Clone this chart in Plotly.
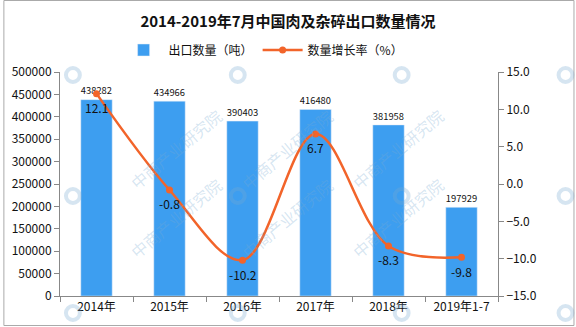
import plotly.graph_objects as go

categories = ["2014年", "2015年", "2016年", "2017年", "2018年", "2019年1-7"]
export_volume = [438282, 434966, 390403, 416480, 381958, 197929]
growth_rate = [12.1, -0.8, -10.2, 6.7, -8.3, -9.8]

FONT = "Noto Sans CJK SC"
BAR_COLOR = "#3d9ef0"
LINE_COLOR = "#f2642a"
AXIS_COLOR = "#888888"
WM_COLOR = "rgba(120,170,210,0.3)"

W, H = 576, 327
ML, MR, MT, MB = 57, 78, 72, 31
PW, PH = W - ML - MR, H - MT - MB

fig = go.Figure()

fig.add_trace(go.Bar(
    x=categories, y=export_volume, name="出口数量（吨）",
    marker_color=BAR_COLOR, width=0.43,
    text=[str(v) for v in export_volume], textposition="outside",
    textfont=dict(family=FONT, size=12, color="#111111"),
    cliponaxis=False,
))

fig.add_trace(go.Scatter(
    x=categories, y=growth_rate, name="数量增长率（%）", yaxis="y2",
    mode="lines+markers",
    line=dict(color=LINE_COLOR, width=2.5, shape="spline", smoothing=1.0),
    marker=dict(color=LINE_COLOR, size=7),
    cliponaxis=False,
))


def px_to_paper(px, py):
    return (px - ML) / PW, (H - MB - py) / PH


shapes = []
annotations = []

# growth-rate labels just below each point
for cat, val in zip(categories, growth_rate):
    annotations.append(dict(x=cat, y=val, xref="x", yref="y2", text=f"{val:.1f}",
                            showarrow=False, yshift=-14,
                            font=dict(family=FONT, size=12, color="#111111")))

# faint "中商产业研究院" watermark tiles
for gx in [70, 236, 401, 566]:
    for gy in [75, 196, 313]:
        cx, cy = px_to_paper(gx, gy)
        r, ry = 7 / PW, 7 / PH
        shapes.append(dict(type="circle", xref="paper", yref="paper",
                           x0=cx - r, x1=cx + r, y0=cy - ry, y1=cy + ry,
                           line=dict(color=WM_COLOR, width=4), layer="above"))
        if gy > 100 and gx < 500:
            tx, ty = px_to_paper(gx + 50, gy - 47)
            annotations.append(dict(text="中商产业研究院", xref="paper", yref="paper",
                                    x=tx, y=ty, showarrow=False, textangle=-40,
                                    font=dict(family=FONT, size=16, color=WM_COLOR)))

# outer frame
fx0, fy0 = px_to_paper(0.5, H - 1.5)
fx1, fy1 = px_to_paper(W - 1.5, 0.5)
shapes.append(dict(type="rect", xref="paper", yref="paper",
                   x0=fx0, x1=fx1, y0=fy0, y1=fy1,
                   line=dict(color="#aaaaaa", width=1), layer="below"))

fig.update_layout(
    width=W, height=H,
    margin=dict(l=ML, r=MR, t=MT, b=MB),
    paper_bgcolor="white", plot_bgcolor="white",
    font=dict(family=FONT, size=12, color="#111111"),
    title=dict(text="<b>2014-2019年7月中国肉及杂碎出口数量情况</b>",
               x=0.5, xanchor="center", y=1 - 22 / H, yanchor="middle",
               font=dict(family=FONT, size=15, color="#111111")),
    legend=dict(orientation="h", x=(262 - ML) / PW, xanchor="center", y=1 + 22 / PH,
                yanchor="middle", font=dict(family=FONT, size=12),
                bgcolor="rgba(0,0,0,0)", itemwidth=40),
    showlegend=True,
    xaxis=dict(showline=True, linecolor=AXIS_COLOR, linewidth=1,
               ticks="outside", tickson="boundaries", ticklen=5, tickcolor=AXIS_COLOR,
               showgrid=False, tickfont=dict(family=FONT, size=12)),
    yaxis=dict(range=[0, 500000], dtick=50000, showline=True, linecolor=AXIS_COLOR,
               ticks="outside", ticklen=5, tickcolor=AXIS_COLOR, showgrid=False,
               zeroline=False, tickformat="d",
               tickfont=dict(family=FONT, size=12)),
    yaxis2=dict(range=[-15, 15], dtick=5, overlaying="y", side="right",
                showline=True, linecolor=AXIS_COLOR, ticks="outside", ticklen=5,
                tickcolor=AXIS_COLOR, showgrid=False, zeroline=False,
                tickformat=".1f", tickfont=dict(family=FONT, size=12)),
    shapes=shapes,
    annotations=annotations,
)

fig.write_html("out.html")
